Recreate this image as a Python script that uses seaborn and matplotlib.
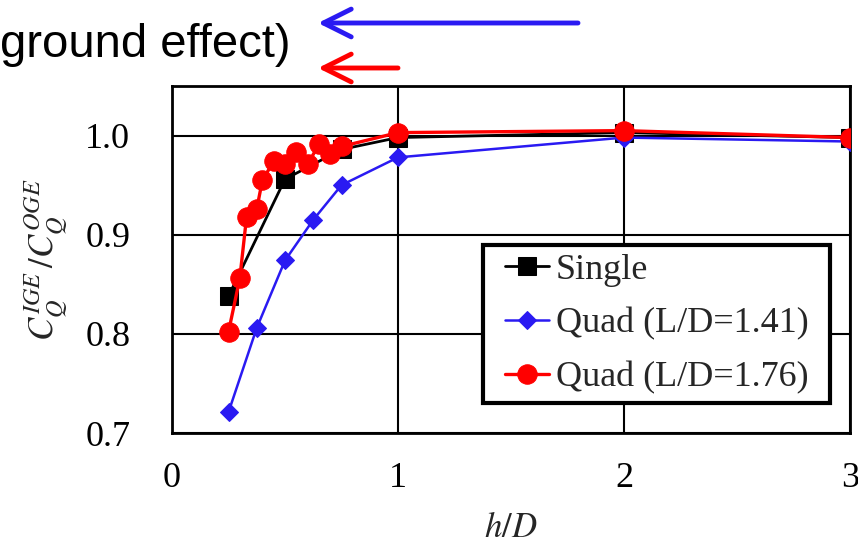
import numpy as np
import pandas as pd
import matplotlib
matplotlib.use("Agg")
import matplotlib.pyplot as plt
from matplotlib.lines import Line2D
from matplotlib.legend_handler import HandlerLine2D
import seaborn as sns

# ---- data ----
single_x = [0.25, 0.5, 0.75, 1.0, 2.0, 3.0]
single_y = [0.838, 0.956, 0.986, 0.998, 1.003, 0.998]

quad141_x = [0.25, 0.375, 0.5, 0.625, 0.75, 1.0, 2.0, 3.0]
quad141_y = [0.721, 0.806, 0.874, 0.915, 0.950, 0.978, 0.998, 0.994]

quad176_x = [0.25, 0.30, 0.33, 0.375, 0.40, 0.45, 0.50, 0.55, 0.60, 0.65, 0.70, 0.75, 1.0, 2.0, 3.0]
quad176_y = [0.802, 0.856, 0.918, 0.926, 0.955, 0.974, 0.971, 0.983, 0.971, 0.991, 0.981, 0.989, 1.003, 1.005, 0.998]

x_ticks = [0, 1, 2, 3]
y_ticks = [0.7, 0.8, 0.9, 1.0]
y_ticklabels = ["0.7", "0.8", "0.9", "1.0"]
labels = ["Single", "Quad (L/D=1.41)", "Quad (L/D=1.76)"]

BLUE = "#2a1af2"
RED = "#ff0000"

sns.set_style("white")
plt.rcParams["font.family"] = ["Liberation Serif", "DejaVu Serif"]
plt.rcParams["mathtext.fontset"] = "stix"

W, H = 858, 549
fig = plt.figure(figsize=(W / 100, H / 100), dpi=100)
ax = fig.add_axes([172 / W, 1 - 433 / H, (850 - 172) / W, (433 - 86) / H])

sns.lineplot(x=single_x, y=single_y, ax=ax, color="black", marker="s", markersize=13,
             linewidth=2.0, markeredgecolor="black", label=labels[0], zorder=3)
sns.lineplot(x=quad141_x, y=quad141_y, ax=ax, color=BLUE, marker="D", markersize=9,
             linewidth=1.8, markeredgecolor=BLUE, label=labels[1], zorder=3)
sns.lineplot(x=quad176_x, y=quad176_y, ax=ax, color=RED, marker="o", markersize=14,
             linewidth=2.4, markeredgecolor=RED, label=labels[2], zorder=4)

ax.set_xlim(0, 3)
ax.set_ylim(0.7, 1.05)
ax.set_xticks(x_ticks)
ax.set_yticks(y_ticks)
ax.set_yticklabels(y_ticklabels)
ax.tick_params(axis="both", length=0, labelsize=26, colors="black")
ax.tick_params(axis="x", pad=21)
ax.tick_params(axis="y", pad=30)
ax.grid(True, color="black", linewidth=1.5)
ax.set_axisbelow(True)
for s in ax.spines.values():
    s.set_visible(True)
    s.set_color("black")
    s.set_linewidth(2.0)

ax.set_xlabel(r"$h/D$", fontsize=25, labelpad=12)
ax.set_ylabel(r"$C_Q^{IGE}\,/C_Q^{OGE}$", fontsize=25, labelpad=12)

AXW, AXH = 850 - 172, 433 - 86
leg = ax.legend(loc="upper left",
                bbox_to_anchor=((483 - 172) / AXW, (433 - 245) / AXH, 347 / AXW, 0),
                mode="expand",
                fontsize=26, frameon=True, fancybox=False, framealpha=1,
                edgecolor="black", handlelength=1.6, handletextpad=0.17,
                labelspacing=0.57, borderpad=0.24, borderaxespad=0,
                handler_map={Line2D: HandlerLine2D(xpad=0.36)})
leg.get_frame().set_linewidth(3.0)

# title fragment and arrows (cropped slide)
fig.text(291 / W, 1 - 57 / H, "ground effect)", ha="right", va="baseline",
         fontsize=34, family=["Liberation Sans", "DejaVu Sans"], color="black")
ax.annotate("", xy=(318, H - 23), xytext=(578, H - 23), xycoords="figure pixels",
            textcoords="figure pixels",
            arrowprops=dict(arrowstyle="->,head_length=1.0,head_width=0.5", color=BLUE,
                            lw=3.5, shrinkA=0, shrinkB=0, mutation_scale=20))
ax.annotate("", xy=(318, H - 68), xytext=(398, H - 68), xycoords="figure pixels",
            textcoords="figure pixels",
            arrowprops=dict(arrowstyle="->,head_length=1.0,head_width=0.5", color=RED,
                            lw=3.5, shrinkA=0, shrinkB=0, mutation_scale=20))

fig.savefig("out.png", dpi=100)
